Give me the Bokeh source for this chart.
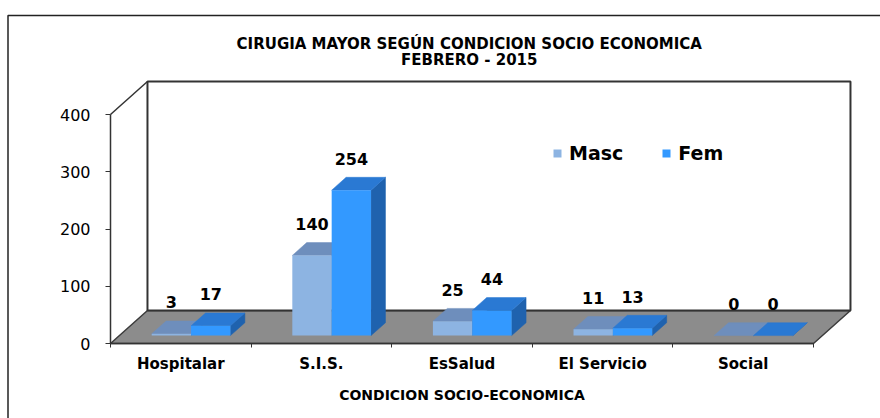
import numpy as np
from bokeh.plotting import figure
from bokeh.models import Range1d, FixedTicker, Legend, LegendItem
from bokeh.core.properties import value
from bokeh.embed import file_html
from bokeh.resources import INLINE

# ---------------- data ----------------
categories = ["Hospitalar", "S.I.S.", "EsSalud", "El Servicio", "Social"]
masc = [3, 140, 25, 11, 0]
fem = [17, 254, 44, 13, 0]
series = ["Masc", "Fem"]
y_ticks = [0, 100, 200, 300, 400]
title_1 = "CIRUGIA MAYOR SEGÚN CONDICION  SOCIO ECONOMICA"
title_2 = "FEBRERO  - 2015"
x_title = "CONDICION SOCIO-ECONOMICA"

# ---------------- layout / style ----------------
W, H = 880, 418
X0_PX, CAT_PX = 110, 140.6      # pixel of category origin, pixels per category
Y0_PX, VAL_PX = 343, 0.5725     # pixel of value 0, pixels per value unit
FONT = "DejaVu Sans"
COLORS = {"Masc": ("#8DB4E2", "#6E8EBC", "#5E7DA8"),
          "Fem": ("#3399FF", "#2A79D3", "#1F62AE")}
EDGE = "#333333"
DX, DY = 0.263, 57.6          # oblique depth of the floor (category units, value units)
D0, D1 = 0.24, 0.63           # depth span of the bars (fraction of floor depth)
BAR_LEFT, BAR_W = 0.23, 0.28  # bar placement inside a category (category units)
LABEL_GAP = 55                # data label distance above bar top (value units)

n = len(categories)
y_top = y_ticks[-1]

x_range = Range1d(-X0_PX / CAT_PX, (W - X0_PX) / CAT_PX)
y_range = Range1d(-(H - Y0_PX) / VAL_PX, Y0_PX / VAL_PX)

p = figure(width=W, height=H, x_range=x_range, y_range=y_range,
           output_backend="svg", toolbar_location=None, title=None,
           min_border=0, min_border_left=0, min_border_right=0,
           min_border_top=0, min_border_bottom=0)
p.xgrid.visible = False
p.ygrid.visible = False
p.outline_line_color = None
p.background_fill_color = "white"
p.border_fill_color = "white"

# outer chart border (left and top edges visible in the crop)
bx = x_range.start + 7.5 / CAT_PX
by = y_range.end - 15 / VAL_PX
p.line([bx, bx, x_range.end + 1], [y_range.start - 10, by, by],
       line_color="#222222", line_width=1.5)

# floor and back wall
p.patch([0, n, n + DX, DX], [0, 0, DY, DY],
        fill_color="#8C8C8C", line_color="#3C3C3C", line_width=1.5)
p.quad(left=DX, right=n + DX, bottom=DY, top=y_top + DY,
       fill_color="white", line_color=EDGE, line_width=2)
p.line([0, DX], [y_top, y_top + DY], line_color=EDGE, line_width=1.5)

# 3D bars
front_renderers = {}
ddx, ddy = DX * (D1 - D0), DY * (D1 - D0)
for s_idx, (name, vals) in enumerate(zip(series, [masc, fem])):
    front_c, top_c, side_c = COLORS[name]
    v = np.array(vals, dtype=float)
    x0 = np.arange(n) + BAR_LEFT + s_idx * BAR_W + DX * D0
    x1 = x0 + BAR_W
    y0 = np.full(n, DY * D0)
    y1 = y0 + v
    side_xs = [[a, a, a + ddx, a + ddx] for a in x1]
    side_ys = [[b, t, t + ddy, b + ddy] for b, t in zip(y0, y1)]
    top_xs = [[a, b, b + ddx, a + ddx] for a, b in zip(x0, x1)]
    top_ys = [[t, t, t + ddy, t + ddy] for t in y1]
    p.patches(side_xs, side_ys, fill_color=side_c, line_color=side_c, line_width=0.5)
    p.patches(top_xs, top_ys, fill_color=top_c, line_color=top_c, line_width=0.5)
    front_renderers[name] = p.quad(left=x0, right=x1, bottom=y0, top=y1,
                                   fill_color=front_c, line_color=None)
    p.text(x=(x0 + x1) / 2, y=y1 + LABEL_GAP, text=[str(int(a)) for a in vals],
           text_align="center", text_baseline="middle",
           text_font=value(FONT), text_font_style="bold",
           text_font_size="16px", text_color="black")

# titles
p.text(x=[n / 2 + 0.07, n / 2 + 0.07], y=[y_top + DY + 66, y_top + DY + 38],
       text=[title_1, title_2], text_align="center", text_baseline="middle",
       text_font=value(FONT), text_font_style="bold",
       text_font_size="15px", text_color="black")

# y axis (drawn at the front-left edge of the 3D box)
yax = p.yaxis[0]
yax.fixed_location = 0
yax.ticker = FixedTicker(ticks=y_ticks)
yax.bounds = (0, y_top)
yax.major_tick_out = 5
yax.major_tick_in = 0
yax.minor_tick_out = 0
yax.minor_tick_in = 0
yax.axis_line_color = EDGE
yax.axis_line_width = 1.5
yax.major_tick_line_color = EDGE
yax.major_label_text_font = FONT
yax.major_label_text_font_size = "16px"
yax.major_label_text_color = "black"
yax.major_label_standoff = 15

# x axis (front edge of the floor)
xax = p.xaxis[0]
xax.fixed_location = 0
xax.ticker = FixedTicker(ticks=[i + 0.5 for i in range(n)],
                         minor_ticks=list(range(n + 1)))
xax.major_label_overrides = {i + 0.5: c for i, c in enumerate(categories)}
xax.bounds = (0, n)
xax.major_tick_out = 0
xax.major_tick_in = 0
xax.minor_tick_out = 4
xax.minor_tick_in = 0
xax.minor_tick_line_color = EDGE
xax.axis_line_color = EDGE
xax.axis_line_width = 1.5
xax.major_label_text_font = FONT
xax.major_label_text_font_size = "15px"
xax.major_label_text_font_style = "bold"
xax.major_label_text_color = "black"
xax.major_label_standoff = 7
xax.axis_label = x_title
xax.axis_label_text_font = FONT
xax.axis_label_text_font_size = "14px"
xax.axis_label_text_font_style = "bold"
xax.axis_label_text_color = "black"
xax.axis_label_standoff = 11

# legend
legend = Legend(items=[LegendItem(label=s, renderers=[front_renderers[s]]) for s in series],
                location=(552, 254), orientation="horizontal",
                glyph_width=10, glyph_height=10, label_standoff=7, spacing=38,
                padding=0, margin=0, border_line_color=None, background_fill_alpha=0,
                label_text_font=FONT, label_text_font_size="19px",
                label_text_font_style="bold", label_text_color="black")
p.add_layout(legend)

open("out.html", "w").write(file_html(p, INLINE, title="chart"))
